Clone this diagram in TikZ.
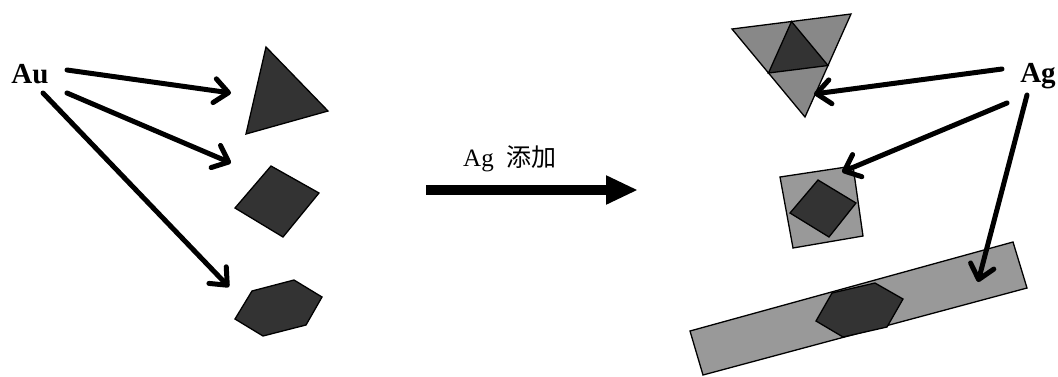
\documentclass[tikz,border=0pt]{standalone}
\usepackage{fontspec}
\setmainfont{Liberation Serif}
\newfontfamily\cjkfont{Noto Sans CJK SC}
\usetikzlibrary{arrows.meta}
\definecolor{darkfill}{HTML}{333333}
\definecolor{midfill}{HTML}{888888}
\definecolor{lightfill}{HTML}{999999}
\tikzset{
  crystal/.style={draw=black, line width=1.3pt, line join=miter, fill=darkfill},
  shell/.style={draw=black, line width=1.3pt, line join=miter, fill=lightfill},
  shelltri/.style={draw=black, line width=1.3pt, line join=miter, fill=midfill},
  barb/.style={line width=5pt, line cap=round, -{Straight Barb[length=14pt,width=24pt,round]}},
  bigarrow/.style={line width=10pt, -{Triangle[length=32pt,width=27pt]}},
  elem/.style={inner sep=0pt, font=\fontsize{29}{29}\selectfont\bfseries}
}
\begin{document}
\begin{tikzpicture}[x=1pt,y=-1pt]
\useasboundingbox (0,0) rectangle (1058,376);

% ---- left: Au crystals ----
\node[elem, anchor=base] (au) at (30,83) {Au};
\path[crystal] (266,47) -- (328,111) -- (246,134) -- cycle;
\path[crystal] (271,166) -- (319,193) -- (283,237) -- (235,208) -- cycle;
\path[crystal] (252,291) -- (294,280) -- (322,297) -- (306,325) -- (263,336) -- (235,319) -- cycle;

\coordinate (au1) at (67,70);
\coordinate (au2) at (67,93);
\coordinate (au3) at (43,93);
\coordinate (t1) at (231,93);
\coordinate (t2) at (231,163);
\coordinate (t3) at (229,287);
\draw[barb] (au1) -- (t1);
\draw[barb] (au2) -- (t2);
\draw[barb] (au3) -- (t3);

% ---- middle arrow ----
\node[anchor=base, inner sep=0pt, font=\fontsize{25}{25}\selectfont] (lbl) at (510,166) {Ag\hspace{13pt}{\cjkfont 添加}};
\coordinate (m1) at (426,190);
\coordinate (m2) at (638,190);
\draw[bigarrow] (m1) -- (m2);

% ---- right: Ag-coated crystals ----
\node[elem, anchor=base] (ag) at (1038,82) {Ag};
% triangle with medial dark triangle
\path[shelltri] (732,29) -- (851,14) -- (805,117) -- cycle;
\path[crystal] (791.5,21.5) -- (828,65.5) -- (768.5,73) -- cycle;
% square shell with inner diamond
\path[shell] (780,177) -- (853,166) -- (863,236) -- (793,248) -- cycle;
\path[crystal] (818,180) -- (856,203) -- (829,237) -- (790,213) -- cycle;
% bar with hexagon
\path[shell] (690,331) -- (1013,242) -- (1027,288) -- (703,375) -- cycle;
\path[crystal] (832,293) -- (875,283) -- (903,299) -- (887,327) -- (843,337) -- (816,321) -- cycle;

\coordinate (ag1) at (1002,69);
\coordinate (ag2) at (1007,103);
\coordinate (ag3) at (1027,95);
\coordinate (s1) at (814,94);
\coordinate (s2) at (842,172);
\coordinate (s3) at (978,282);
\draw[barb] (ag1) -- (s1);
\draw[barb] (ag2) -- (s2);
\draw[barb] (ag3) -- (s3);
\end{tikzpicture}
\end{document}
